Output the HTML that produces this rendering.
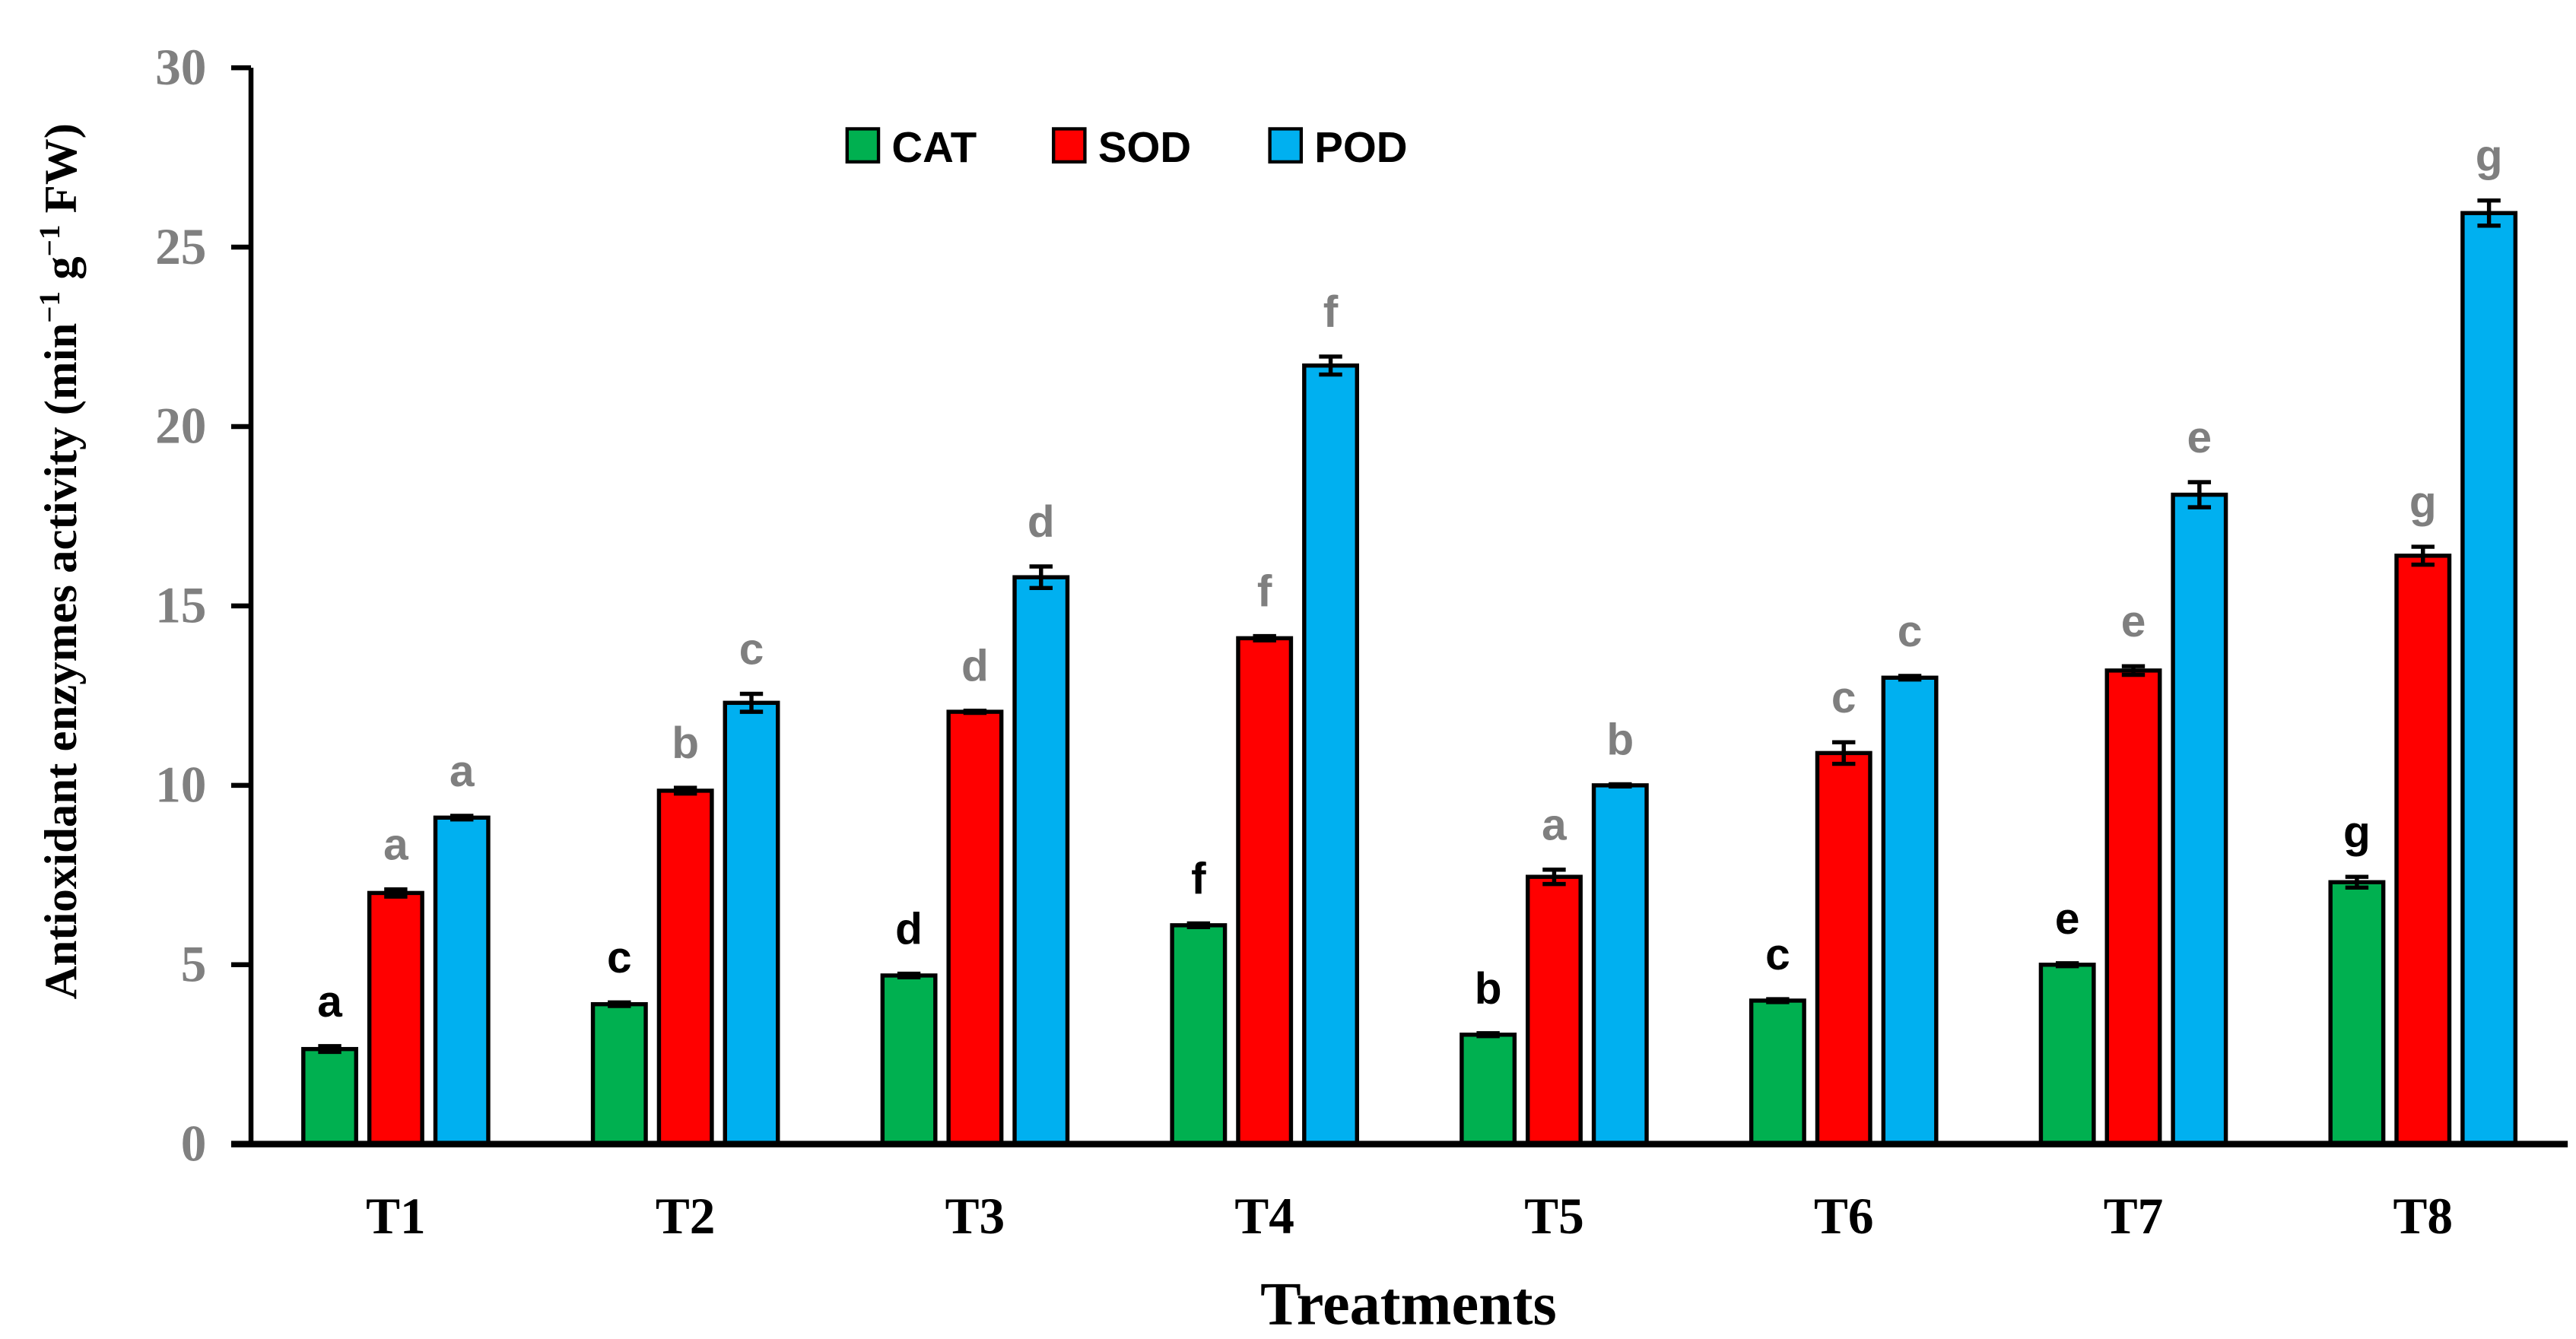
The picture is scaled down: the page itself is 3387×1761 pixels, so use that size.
<!DOCTYPE html>
<html><head><meta charset="utf-8">
<style>html,body{margin:0;padding:0;background:#fff;}svg{display:block;}</style>
</head><body>
<svg id="chart" width="3387" height="1761" viewBox="0 0 1560 811" xmlns="http://www.w3.org/2000/svg">
<rect width="1560" height="811" fill="#fff"/>
<g id="plot"></g>
<text transform="translate(46,340) rotate(-90)" text-anchor="middle" font-family="Liberation Serif, serif" font-weight="bold" font-size="28" fill="#000">Antioxidant enzymes activity (min<tspan dy="-10" font-size="18">−1</tspan><tspan dy="10"> g</tspan><tspan dy="-10" font-size="18">−1</tspan><tspan dy="10"> FW)</tspan></text>
<text x="853" y="802" text-anchor="middle" font-family="Liberation Serif, serif" font-weight="bold" font-size="37" fill="#000">Treatments</text>
<g font-family="Liberation Sans, sans-serif" font-weight="bold" font-size="26">
<rect x="513" y="78" width="19" height="20" fill="#00b050" stroke="#000" stroke-width="2"/>
<text x="540" y="98">CAT</text>
<rect x="638" y="78" width="19" height="20" fill="#ff0000" stroke="#000" stroke-width="2"/>
<text x="665" y="98">SOD</text>
<rect x="769" y="78" width="19" height="20" fill="#00b0f0" stroke="#000" stroke-width="2"/>
<text x="796" y="98">POD</text>
</g>
</svg>
<script>
const categories = ["T1","T2","T3","T4","T5","T6","T7","T8"];
const catValues = [2.65, 3.9, 4.7, 6.1, 3.05, 4.0, 5.0, 7.3];
const sodValues = [7.0, 9.85, 12.05, 14.1, 7.45, 10.9, 13.2, 16.4];
const podValues = [9.1, 12.3, 15.8, 21.7, 10.0, 13.0, 18.1, 25.95];
const catErr = [0.08, 0.05, 0.05, 0.05, 0.04, 0.04, 0.04, 0.15];
const sodErr = [0.1, 0.08, 0.03, 0.06, 0.2, 0.3, 0.12, 0.25];
const podErr = [0.05, 0.25, 0.3, 0.25, 0.03, 0.05, 0.35, 0.35];
const catLetters = ["a","c","d","f","b","c","e","g"];
const sodLetters = ["a","b","d","f","a","c","e","g"];
const podLetters = ["a","c","d","f","b","c","e","g"];
const yTicks = [0, 5, 10, 15, 20, 25, 30];

const NS = "http://www.w3.org/2000/svg";
const g = document.getElementById("plot");
const X0 = 152, X1 = 1555, Y0 = 693, YTOP = 41, YMAX = 30;
const band = (X1 - X0) / categories.length;
function y(v){ return Y0 - (v / YMAX) * (Y0 - YTOP); }
function xc(i){ return X0 + band * (i + 0.5); }
function mk(tag, attrs){ const e = document.createElementNS(NS, tag); for (const k in attrs) e.setAttribute(k, attrs[k]); g.appendChild(e); return e; }

yTicks.forEach(t => {
  const l = mk("line", {x1: X0 - 12, x2: X0, y1: y(t), y2: y(t), stroke: "#000", "stroke-width": 3});
  
  
  const tx = mk("text", {x: 125, y: y(t) + 10, "text-anchor": "end", "font-family": "Liberation Serif, serif", "font-weight": "bold", "font-size": "31", fill: "#808080"});
  tx.textContent = t;
  
  
});

const series = [
  {vals: catValues, err: catErr, letters: catLetters, fill: "#00b050", lc: "#000", off: -40, name: "cat"},
  {vals: sodValues, err: sodErr, letters: sodLetters, fill: "#ff0000", lc: "#7f7f7f", off: 0, name: "sod"},
  {vals: podValues, err: podErr, letters: podLetters, fill: "#00b0f0", lc: "#7f7f7f", off: 40, name: "pod"}
];
const bw = 32;
categories.forEach((c, i) => {
  series.forEach(s => {
    const v = s.vals[i], cx = xc(i) + s.off;
    const r = mk("rect", {x: cx - bw/2, y: y(v), width: bw, height: Y0 - y(v), fill: s.fill, stroke: "#000", "stroke-width": 2.5});
    
    
    const e = s.err[i];
    const eb = mk("path", {d: `M${cx-7},${y(v+e)}H${cx+7}M${cx},${y(v+e)}V${y(v-e)}M${cx-7},${y(v-e)}H${cx+7}`, stroke: "#000", "stroke-width": 2.5, fill: "none"});
    
    
    const lt = mk("text", {x: cx, y: y(v + e) - 18, "text-anchor": "middle", "font-family": "Liberation Sans, sans-serif", "font-weight": "bold", "font-size": "27", fill: s.lc});
    lt.textContent = s.letters[i];
    
    
  });
  const xl = mk("text", {x: xc(i), y: 747, "text-anchor": "middle", "font-family": "Liberation Serif, serif", "font-weight": "bold", "font-size": "31", fill: "#000"});
  xl.textContent = c;
  
  
});

const ya = mk("line", {x1: X0, x2: X0, y1: YTOP, y2: Y0, stroke: "#000", "stroke-width": 3});


const xa = mk("line", {x1: X0 - 12, x2: X1, y1: Y0, y2: Y0, stroke: "#000", "stroke-width": 4});


</script>
</body></html>
